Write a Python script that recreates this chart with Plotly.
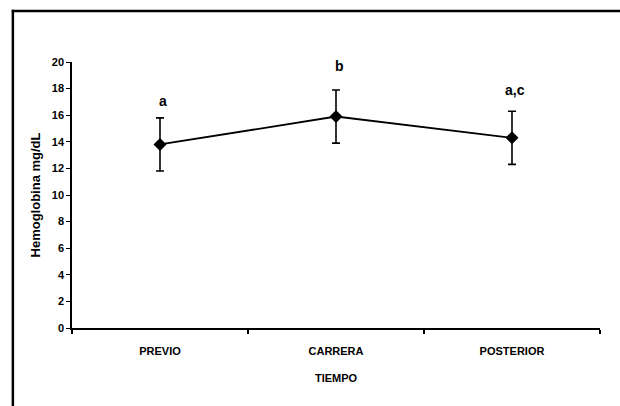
import plotly.graph_objects as go

categories = ["PREVIO", "CARRERA", "POSTERIOR"]
means = [13.8, 15.9, 14.3]
errors = [2.0, 2.0, 2.0]
letters = ["a", "b", "a,c"]
letter_y = [17.1, 19.7, 17.9]
y_ticks = [0, 2, 4, 6, 8, 10, 12, 14, 16, 18, 20]

FONT = "Liberation Sans, Arial, sans-serif"

fig = go.Figure()
fig.add_trace(go.Scatter(
    x=categories, y=means, mode="lines+markers",
    line=dict(color="black", width=1.8),
    marker=dict(symbol="diamond", size=10, color="black"),
    error_y=dict(type="data", array=errors, visible=True, color="black",
                 thickness=1.6, width=4),
    showlegend=False,
))

for c, t, yy in zip(categories, letters, letter_y):
    fig.add_annotation(x=c, y=yy, text=f"<b>{t}</b>", showarrow=False,
                       font=dict(family=FONT, size=14, color="black"),
                       xshift=3)

# outer frame: only left and top edges fall inside the picture
fig.add_shape(type="line", xref="paper", yref="paper",
              x0=-0.112, x1=-0.112, y0=-0.4, y1=1.196,
              line=dict(color="black", width=2.5))
fig.add_shape(type="line", xref="paper", yref="paper",
              x0=-0.114, x1=1.1, y0=1.192, y1=1.192,
              line=dict(color="black", width=2.5))

fig.update_layout(
    width=620, height=406,
    margin=dict(l=72, r=20, t=62, b=78),
    paper_bgcolor="white", plot_bgcolor="white",
    font=dict(family=FONT, color="black"),
)
fig.update_xaxes(
    type="category", range=[-0.5, 2.5],
    showline=True, linecolor="black", linewidth=2,
    ticks="outside", ticklen=4, tickcolor="black", tickwidth=1.5,
    tickson="boundaries", showgrid=False, zeroline=False,
    tickfont=dict(family=FONT, size=11),
    ticklabelstandoff=12,
    title=dict(text="<b>TIEMPO</b>", font=dict(family=FONT, size=11), standoff=18),
    tickvals=categories, ticktext=[f"<b>{c}</b>" for c in categories],
)
fig.update_yaxes(
    range=[0, 20], tickvals=y_ticks,
    ticktext=[f"<b>{v}</b>" for v in y_ticks],
    showline=True, linecolor="black", linewidth=1.5,
    ticks="outside", ticklen=4, tickcolor="black", tickwidth=1.2,
    showgrid=False, zeroline=False,
    tickfont=dict(family=FONT, size=11),
    title=dict(text="<b>Hemoglobina mg/dL</b>", font=dict(family=FONT, size=13), standoff=8),
)

fig.write_html(
    "out.html",
    config={"displayModeBar": False},
    post_script="document.body.style.margin='0';document.body.style.overflow='hidden';",
)
